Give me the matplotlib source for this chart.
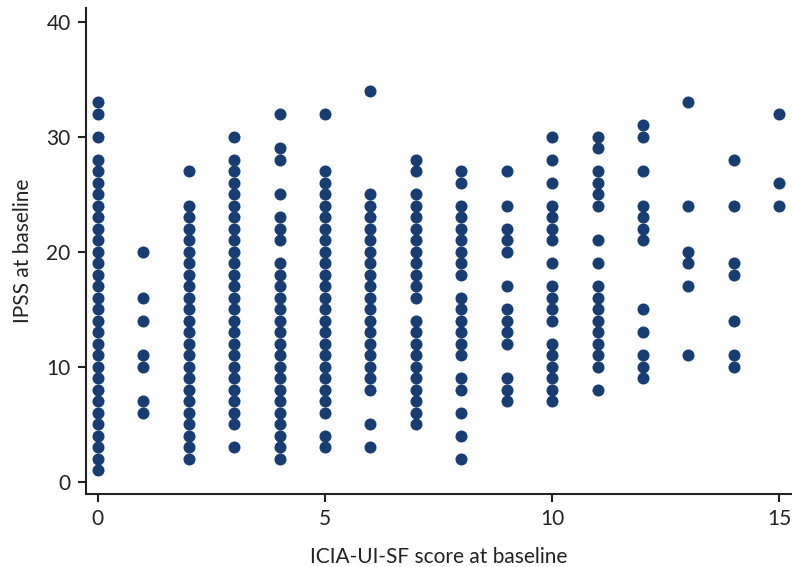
import matplotlib
matplotlib.use("Agg")
import matplotlib.pyplot as plt

# ICIA-UI-SF score (x) -> IPSS values (y) observed at that score
ipss_x0 = list(range(1, 29)) + [30, 32, 33]
ipss_x1 = [6, 7, 10, 11, 14, 16, 20]
ipss_x2 = list(range(2, 25)) + [27]
ipss_x3 = [3] + list(range(5, 29)) + [30]
ipss_x4 = list(range(2, 20)) + [21, 22, 23, 25, 28, 29, 32]
ipss_x5 = [3, 4] + list(range(6, 28)) + [32]
ipss_x6 = [3, 5] + list(range(8, 26)) + [34]
ipss_x7 = list(range(5, 15)) + list(range(16, 26)) + [27, 28]
ipss_x8 = [2, 4, 6, 8, 9, 11, 12, 13, 14, 15, 16, 18, 19, 20, 21, 22, 23, 24, 26, 27]
ipss_x9 = [7, 8, 9, 12, 13, 14, 15, 17, 20, 21, 22, 24, 27]
ipss_x10 = [7, 8, 9, 10, 11, 12, 14, 15, 16, 17, 19, 21, 22, 23, 24, 26, 28, 30]
ipss_x11 = [8, 10, 11, 12, 13, 14, 15, 16, 17, 19, 21, 24, 25, 26, 27, 29, 30]
ipss_x12 = [9, 10, 11, 13, 15, 21, 22, 23, 24, 27, 30, 31]
ipss_x13 = [11, 17, 19, 20, 24, 33]
ipss_x14 = [10, 11, 14, 18, 19, 24, 28]
ipss_x15 = [24, 26, 32]

scores = list(range(16))
ipss_by_score = [ipss_x0, ipss_x1, ipss_x2, ipss_x3, ipss_x4, ipss_x5, ipss_x6,
                 ipss_x7, ipss_x8, ipss_x9, ipss_x10, ipss_x11, ipss_x12,
                 ipss_x13, ipss_x14, ipss_x15]

x_ticks = [0, 5, 10, 15]
y_ticks = [0, 10, 20, 30, 40]

xs, ys = [], []
for s, vals in zip(scores, ipss_by_score):
    xs.extend([s] * len(vals))
    ys.extend(vals)

plt.rcParams['font.family'] = ['Lato', 'DejaVu Sans']

fig = plt.figure(figsize=(7.92, 5.67), dpi=100)
ax = fig.add_axes([0.1086, 0.1287, 0.8914, 0.8572])

ax.scatter(xs, ys, s=75, color='#163e74', linewidths=0, zorder=3, clip_on=False)

ax.set_xlim(-0.26, 15.28)
ax.set_ylim(-1.07, 41.2)
ax.set_xticks(x_ticks)
ax.set_yticks(y_ticks)

for side in ['top', 'right']:
    ax.spines[side].set_visible(False)
for side in ['left', 'bottom']:
    ax.spines[side].set_linewidth(1.5)
    ax.spines[side].set_color('#222222')

ax.tick_params(axis='both', direction='out', length=6, width=1.5,
               color='#222222', labelsize=15, labelcolor='#222222', pad=5)

ax.set_xlabel('ICIA-UI-SF score at baseline', fontsize=15, color='#222222', labelpad=13)
ax.set_ylabel('IPSS at baseline', fontsize=15, color='#222222', labelpad=10)

fig.savefig('out.png', dpi=100)
